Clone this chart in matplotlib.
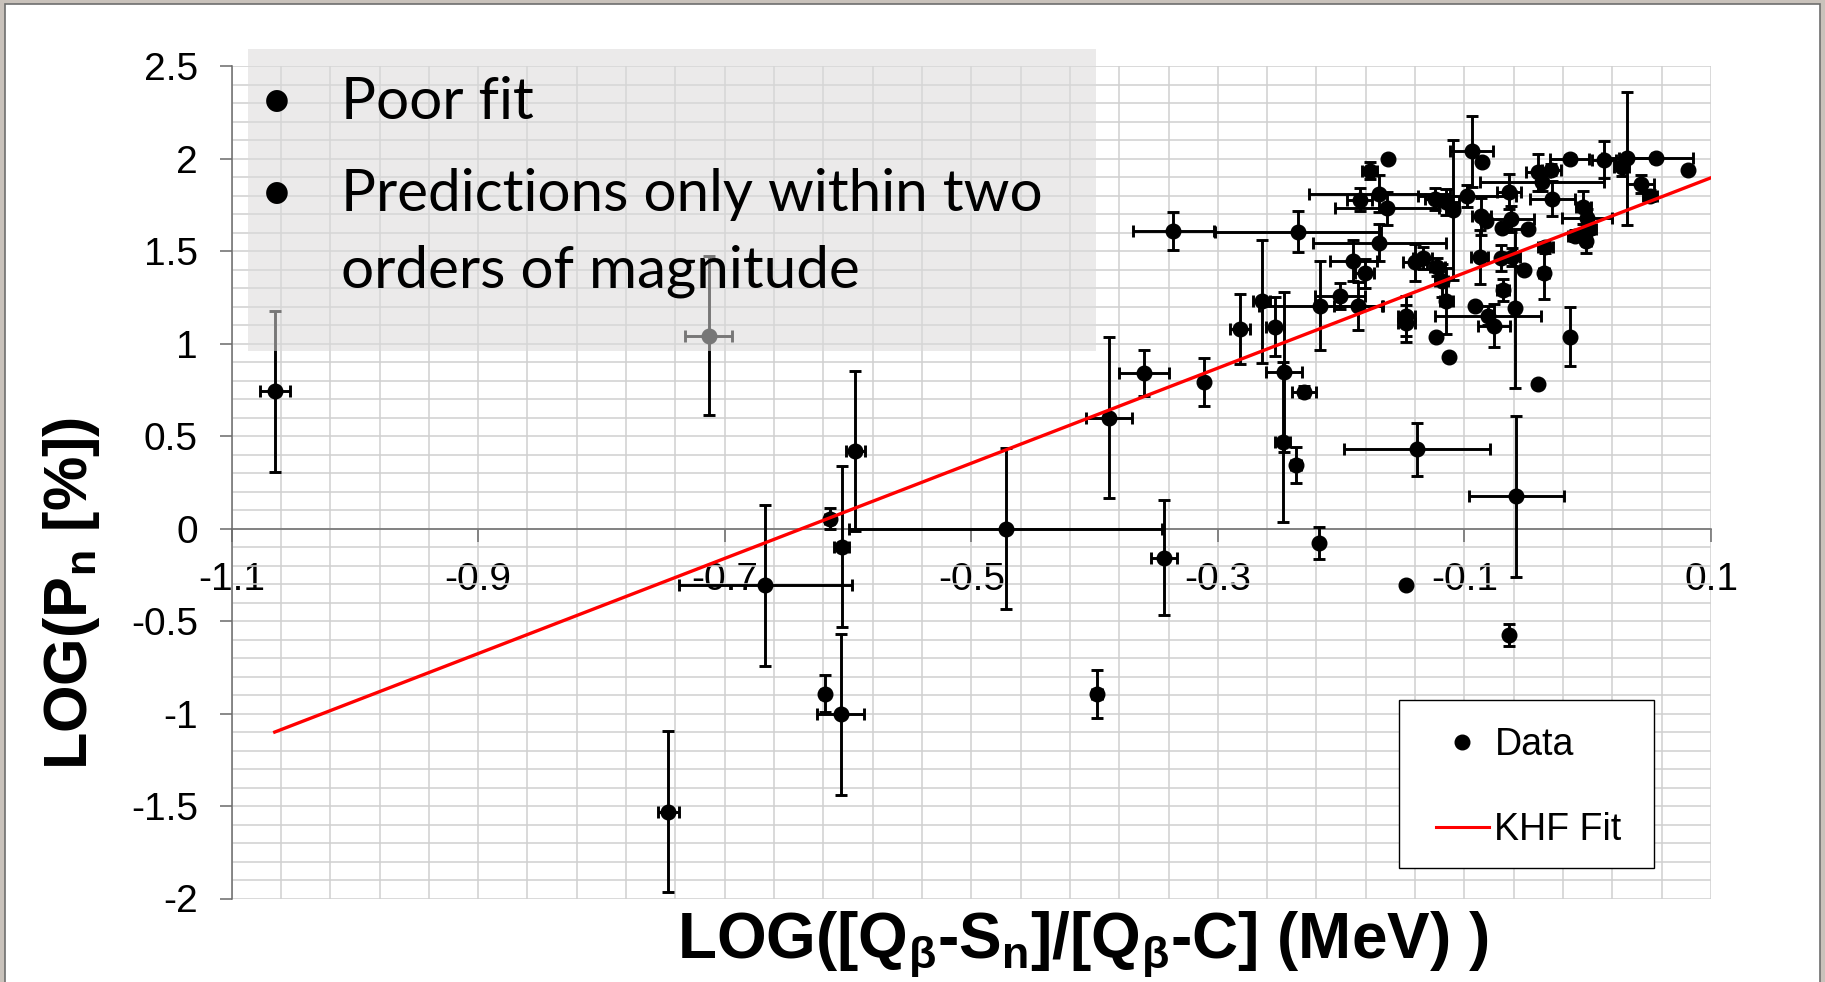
import matplotlib
matplotlib.use("Agg")
import matplotlib.pyplot as plt
from matplotlib.lines import Line2D
from matplotlib.patches import Rectangle

plt.rcParams['font.family'] = ['Liberation Sans', 'DejaVu Sans']
plt.rcParams['axes.unicode_minus'] = False
plt.rcParams['mathtext.fontset'] = 'custom'
plt.rcParams['mathtext.rm'] = 'Liberation Sans:bold'
plt.rcParams['mathtext.it'] = 'Liberation Sans:bold'
plt.rcParams['mathtext.bf'] = 'Liberation Sans:bold'

# LOG([Qb-Sn]/[Qb-C]) and LOG(Pn), with their errors
log_ratio = [-1.065, -0.713, -0.746, -0.667, -0.615, -0.605, -0.594, -0.619, -0.606, -0.472,
             -0.398, -0.388, -0.360, -0.3435, -0.336, -0.311, -0.282, -0.2646, -0.2538, -0.2473,
             -0.2465, -0.2365, -0.235, -0.230, -0.2176, -0.217, -0.201, -0.186, -0.190, -0.181,
             -0.185, -0.177, -0.169, -0.163, -0.169, -0.1616, -0.1478, -0.147, -0.147, -0.1384,
             -0.140, -0.134, -0.124, -0.1227, -0.122, -0.1186, -0.1146, -0.1146, -0.1127, -0.1096,
             -0.098, -0.094, -0.0916, -0.0857, -0.0876, -0.0862, -0.0822, -0.0805, -0.0762, -0.0705,
             -0.0692, -0.0686, -0.064, -0.0638, -0.0619, -0.0611, -0.0588, -0.058, -0.052, -0.0483,
             -0.0404, -0.0403, -0.037, -0.0357, -0.0345, -0.0294, -0.0286, -0.0146, -0.0146, -0.010,
             -0.0036, -0.0005, 0.001, -0.001, 0.0132, 0.0275, 0.0318, 0.0431, 0.0505, 0.0557,
             0.0812]
log_pn = [0.742, 1.044, -1.530, -0.306, 0.054, -0.099, 0.420, -0.892, -1.005, 0.000,
          -0.893, 0.600, 0.843, -0.157, 1.609, 0.793, 1.081, 1.230, 1.093, 0.468,
          0.847, 0.342, 1.605, 0.740, -0.077, 1.205, 1.258, 1.203, 1.449, 1.380,
          1.779, 1.935, 1.812, 1.732, 1.545, 2.000, -0.303, 1.150, 1.110, 0.429,
          1.440, 1.465, 1.782, 1.038, 1.416, 1.340, 1.232, 1.764, 0.928, 1.722,
          1.800, 2.040, 1.206, 1.980, 1.468, 1.690, 1.665, 1.152, 1.098, 1.463,
          1.625, 1.290, -0.577, 1.822, 1.675, 1.470, 1.191, 0.175, 1.398, 1.620,
          0.780, 1.928, 1.875, 1.381, 1.522, 1.940, 1.785, 2.000, 1.038, 1.585,
          1.738, 1.678, 1.622, 1.558, 1.994, 1.956, 2.002, 1.863, 1.800, 2.002,
          1.940]
ratio_err = [0.012, 0.019, 0.0085, 0.070, 0.004, 0.006, 0.008, 0.003, 0.019, 0.127,
             0.004, 0.0186, 0.020, 0.0104, 0.033, 0.0, 0.008, 0.0068, 0.0074, 0.006,
             0.0145, 0.004, 0.067, 0.010, 0.0, 0.050, 0.020, 0.020, 0.019, 0.008,
             0.010, 0.006, 0.057, 0.042, 0.054, 0.0, 0.0, 0.007, 0.007, 0.059,
             0.010, 0.008, 0.008, 0.0, 0.006, 0.005, 0.005, 0.010, 0.0, 0.0,
             0.040, 0.0175, 0.0, 0.0, 0.007, 0.008, 0.0, 0.043, 0.013, 0.0,
             0.0, 0.005, 0.0, 0.010, 0.018, 0.006, 0.0, 0.0384, 0.0, 0.0,
             0.0, 0.010, 0.050, 0.004, 0.006, 0.008, 0.018, 0.016, 0.0, 0.006,
             0.006, 0.020, 0.006, 0.004, 0.010, 0.006, 0.020, 0.011, 0.006, 0.030,
             0.0]
pn_err = [0.435, 0.430, 0.435, 0.436, 0.055, 0.435, 0.435, 0.100, 0.434, 0.435,
          0.130, 0.434, 0.124, 0.310, 0.105, 0.130, 0.190, 0.333, 0.160, 0.434,
          0.430, 0.097, 0.110, 0.030, 0.088, 0.240, 0.070, 0.130, 0.110, 0.080,
          0.063, 0.045, 0.100, 0.090, 0.100, 0.0, 0.0, 0.110, 0.100, 0.144,
          0.100, 0.060, 0.060, 0.0, 0.050, 0.090, 0.180, 0.070, 0.0, 0.380,
          0.060, 0.190, 0.0, 0.0, 0.145, 0.100, 0.0, 0.050, 0.117, 0.070,
          0.0, 0.060, 0.059, 0.095, 0.070, 0.050, 0.430, 0.434, 0.0, 0.0,
          0.0, 0.100, 0.050, 0.140, 0.030, 0.030, 0.095, 0.020, 0.158, 0.030,
          0.090, 0.050, 0.030, 0.070, 0.100, 0.050, 0.360, 0.050, 0.030, 0.0,
          0.0]

# KHF fit line end points
fit_x = [-1.065, 0.103]
fit_y = [-1.100, 1.905]

x_ticks = [-1.1, -0.9, -0.7, -0.5, -0.3, -0.1, 0.1]
y_ticks = [-2, -1.5, -1, -0.5, 0, 0.5, 1, 1.5, 2, 2.5]
x_minor = [-1.1 + 0.04 * k for k in range(31)]
y_minor = [-2 + 0.1 * k for k in range(46)]

W, H = 1825, 982
fig = plt.figure(figsize=(W / 100, H / 100), dpi=100, facecolor='#c9c2bb')
fig.add_artist(Rectangle((5 / W, -0.01), 1815 / W, (982 - 4) / H + 0.01, transform=fig.transFigure,
                         facecolor='white', edgecolor='#6e6e6e', lw=1.2, zorder=-10))

ax = fig.add_axes([231.6 / W, 1 - 898.5 / H, (1711 - 231.6) / W, (898.5 - 66.3) / H])
ax.patch.set_alpha(0)
ax.set_xlim(-1.1, 0.1)
ax.set_ylim(-2, 2.5)

for s in ['top', 'right']:
    ax.spines[s].set_visible(False)
ax.spines['bottom'].set_position(('data', 0))
for s in ['bottom', 'left']:
    ax.spines[s].set_color('#6a6a6a')
    ax.spines[s].set_linewidth(1.1)

ax.set_xticks(x_ticks)
ax.set_xticklabels(['%.1f' % v for v in x_ticks])
ax.set_yticks(y_ticks)
ax.set_yticklabels(['%g' % v for v in y_ticks])
ax.set_xticks(x_minor, minor=True)
ax.set_yticks(y_minor, minor=True)
ax.grid(which='both', color='#d0d0d0', lw=1.1)
ax.set_axisbelow(True)
ax.tick_params(which='minor', length=0)
ax.tick_params(axis='x', which='major', direction='out', length=9, width=1.1, color='#6a6a6a',
               pad=15, labelsize=28)
ax.tick_params(axis='y', which='major', direction='out', length=8.3, width=1.1, color='#6a6a6a',
               pad=16, labelsize=28)

ax.errorbar(log_ratio, log_pn, xerr=ratio_err, yerr=pn_err, fmt='o', color='black', ms=10.5,
            elinewidth=2.1, capsize=4.5, capthick=2.1, zorder=3)
ax.plot(fit_x, fit_y, color='#ff0000', lw=2.4, zorder=4)

# legend box
ax.add_patch(Rectangle((1399 / W, 1 - 868 / H), 255 / W, 168 / H, transform=fig.transFigure,
                       facecolor='white', edgecolor='black', lw=1.0, clip_on=False, zorder=6))
handles = [Line2D([], [], ls='none', marker='o', color='black', ms=10.5),
           Line2D([], [], color='#ff0000', lw=2.2)]
leg = ax.legend(handles, ['Data', 'KHF Fit'], loc='center left',
                bbox_to_anchor=(1436 / W, 1 - 787.5 / H), bbox_transform=fig.transFigure,
                frameon=False, fontsize=27, borderpad=0, borderaxespad=0,
                handlelength=1.4, handletextpad=0.16, labelspacing=1.29)
leg.set_zorder(7)

# grey note box over the plot
fig.add_artist(Rectangle((248 / W, 1 - 351 / H), (1096 - 248) / W, (351 - 49) / H,
                         transform=fig.transFigure, facecolor=(0.86, 0.855, 0.855), alpha=0.55,
                         edgecolor='none', zorder=5))
note_font = dict(family=['Lato', 'DejaVu Sans'], fontsize=42, color='black', zorder=6)
fig.text(277 / W, 1 - 118.6 / H, '\u2022', ha='center', va='baseline', **note_font)
fig.text(341 / W, 1 - 118.6 / H, 'Poor fit', ha='left', va='baseline', **note_font)
fig.text(277 / W, 1 - 211 / H, '\u2022', ha='center', va='baseline', **note_font)
fig.text(341 / W, 1 - 211 / H, 'Predictions only within two', ha='left', va='baseline', **note_font)
fig.text(341 / W, 1 - 288 / H, 'orders of magnitude', ha='left', va='baseline', **note_font)

fig.text(72 / W, 1 - 510 * 1.1639 / H, r'LOG(P$_n$ [%])', rotation=90, ha='center', va='center',
         fontsize=44, fontweight='bold')
fig.text(1083 / W, 1 - 945 / H, r'LOG([Q$_\beta$-S$_n$]/[Q$_\beta$-C] (MeV) )', ha='center',
         va='center', fontsize=46, fontweight='bold')

fig.savefig('out.png', dpi=100, facecolor=fig.get_facecolor())
